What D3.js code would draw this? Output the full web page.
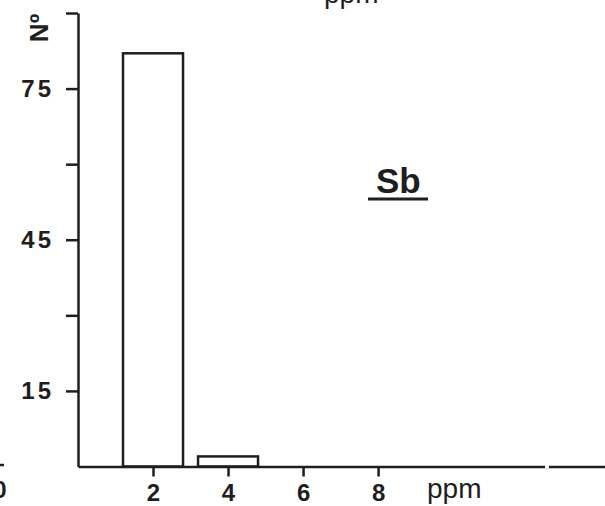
<!DOCTYPE html>
<html>
<head>
<meta charset="utf-8">
<script src="https://cdn.jsdelivr.net/npm/d3@7"></script>
<style>
  body { margin: 0; background: #fff; }
  text { font-family: "Liberation Sans", Arial, sans-serif; fill: #1e1e1e; }
</style>
</head>
<body>
<svg id="canvas" width="605" height="506"></svg>
<script>
// data
var ppm_centres = [2, 4];
var counts = [82, 2];
var half_bin = 0.8;
var x_ticks = [2, 4, 6, 8];
var y_ticks = [15, 30, 45, 60, 75, 90];
var y_labels = [15, 45, 75];

var ink = '#1e1e1e';
var svg = d3.select('#canvas');

var x = d3.scaleLinear().domain([0, 14.05]).range([78, 605]);
var y = d3.scaleLinear().domain([0, 90]).range([466.5, 13]);

// ************************************************************************************** //
// bars

svg.append('g').selectAll('rect')
  .data(ppm_centres)
  .enter().append('rect')
  .attr('x', function(d){ return x(d - half_bin); })
  .attr('y', function(d, i){ return y(counts[i]); })
  .attr('width', function(d){ return x(d + half_bin) - x(d - half_bin); })
  .attr('height', function(d, i){ return y(0) - y(counts[i]); })
  .style('fill', 'white')
  .style('stroke', ink)
  .style('stroke-width', 2.5);

// ************************************************************************************** //
// axes

var y_axis = svg.append('g')
  .attr('transform', 'translate(' + x(0) + ',0)')
  .call(d3.axisLeft(y).tickValues(y_ticks).tickSize(12).tickSizeOuter(0).tickPadding(12)
    .tickFormat(function(d){ return y_labels.indexOf(d) >= 0 ? d : ''; }));

var x_axis = svg.append('g')
  .attr('transform', 'translate(0,' + y(0) + ')')
  .call(d3.axisBottom(x).tickValues(x_ticks).tickSize(10).tickSizeOuter(0).tickPadding(7));

[y_axis, x_axis].forEach(function(a){
  a.select('.domain').style('stroke', ink).style('stroke-width', 2.5);
  a.selectAll('.tick line').style('stroke', ink).style('stroke-width', 2.5);
  a.selectAll('.tick text').style('font-size', '24px').style('font-weight', 'bold').style('fill', ink);
});
y_axis.selectAll('.tick text').style('letter-spacing', '3px');

// small break in the baseline
svg.append('line')
  .attr('x1', 545).attr('x2', 549).attr('y1', y(0)).attr('y2', y(0))
  .style('stroke', 'white').style('stroke-width', 4);

// ************************************************************************************** //
// labels

svg.append('text').attr('x', 427).attr('y', 498).style('font-size', '28px').text('ppm');
svg.append('text').attr('x', 324).attr('y', 3).style('font-size', '28px').text('ppm');

svg.append('text').attr('transform', 'translate(48,28) rotate(-90)')
  .attr('text-anchor', 'middle').style('font-size', '26px').style('font-weight', 'bold').text('Nº');

svg.append('text').attr('x', 376).attr('y', 193).style('font-size', '35px').style('font-weight', 'bold').text('Sb');
svg.append('line').attr('x1', 368).attr('x2', 428).attr('y1', 199).attr('y2', 199)
  .style('stroke', ink).style('stroke-width', 3);

// bits of the neighbouring panel at the left edge
svg.append('line').attr('x1', -6).attr('x2', 4).attr('y1', 465).attr('y2', 465)
  .style('stroke', ink).style('stroke-width', 2.5);
svg.append('text').attr('x', 0).attr('y', 498).attr('text-anchor', 'middle')
  .style('font-size', '24px').style('font-weight', 'bold').text('0');
</script>
</body>
</html>
